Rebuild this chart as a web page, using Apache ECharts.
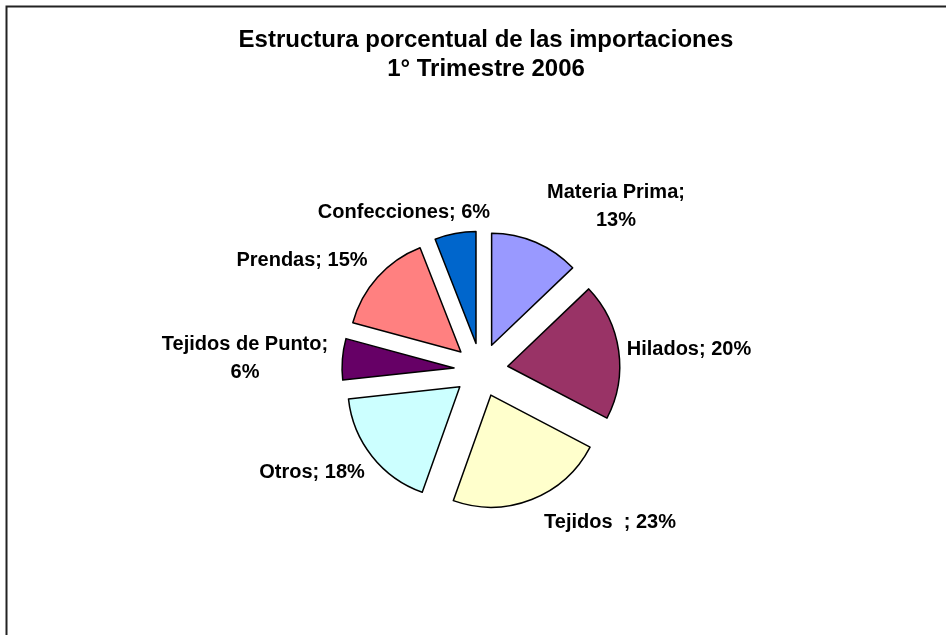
<!DOCTYPE html>
<html>
<head>
    <meta charset="utf-8">
    <title>Estructura porcentual de las importaciones</title>
    <script src="https://cdn.jsdelivr.net/npm/echarts@6/dist/echarts.min.js"></script>
    <style>
        html, body { margin: 0; padding: 0; background: #fff; }
        #chart { width: 946px; height: 635px; }
    </style>
</head>
<body>
    <div id="chart"></div>
    <script type="text/javascript">
        // categorias y porcentajes (sentido horario desde las 12)
        var categories = ['Materia Prima', 'Hilados', 'Tejidos  ', 'Otros', 'Tejidos de Punto', 'Prendas', 'Confecciones'];
        var values = [13, 20, 23, 18, 6, 15, 6];
        var colors = ['#9999FF', '#993366', '#FFFFCC', '#CCFFFF', '#660066', '#FF8080', '#0066CC'];
        // etiquetas que van en dos lineas
        var twoLines = [true, false, false, false, true, false, false];
        // centro de cada etiqueta
        var labelAnchors = [[616, 206], [689, 349], [610, 522], [312, 472], [245, 358], [302, 260], [404, 212]];

        var font = 'Liberation Sans, Arial, sans-serif';

        var pieData = [];
        var labels = [];
        for (var i = 0; i < categories.length; i++) {
            pieData.push({
                name: categories[i],
                value: values[i],
                selected: true,
                itemStyle: { color: colors[i] }
            });
            labels.push({
                type: 'text',
                x: labelAnchors[i][0],
                y: labelAnchors[i][1],
                silent: true,
                style: {
                    text: categories[i] + ';' + (twoLines[i] ? '\n' : ' ') + values[i] + '%',
                    fontFamily: font,
                    fontSize: 20,
                    fontWeight: 'bold',
                    lineHeight: 28,
                    fill: '#000',
                    align: 'center',
                    verticalAlign: 'middle'
                }
            });
        }

        // marco del grafico (solo se ve arriba y a la izquierda)
        labels.push({
            type: 'rect',
            shape: { x: 6.5, y: 6.5, width: 1200, height: 1200 },
            style: { fill: 'none', stroke: '#222', lineWidth: 2 },
            silent: true
        });

        var chart = echarts.init(document.getElementById('chart'));
        chart.setOption({
            animation: false,
            backgroundColor: '#fff',
            title: {
                text: 'Estructura porcentual de las importaciones\n1° Trimestre 2006',
                left: 481,
                top: 21,
                textAlign: 'center',
                textStyle: {
                    fontFamily: font,
                    fontSize: 24,
                    fontWeight: 'bold',
                    color: '#000',
                    lineHeight: 29
                }
            },
            graphic: labels,
            series: [{
                type: 'pie',
                center: [481, 370],
                radius: 112,
                startAngle: 90,
                clockwise: true,
                selectedMode: 'multiple',
                selectedOffset: 27,
                emphasis: { disabled: true },
                itemStyle: { borderColor: '#000', borderWidth: 1.5 },
                label: { show: false },
                labelLine: { show: false },
                data: pieData
            }]
        });
    </script>
</body>
</html>
